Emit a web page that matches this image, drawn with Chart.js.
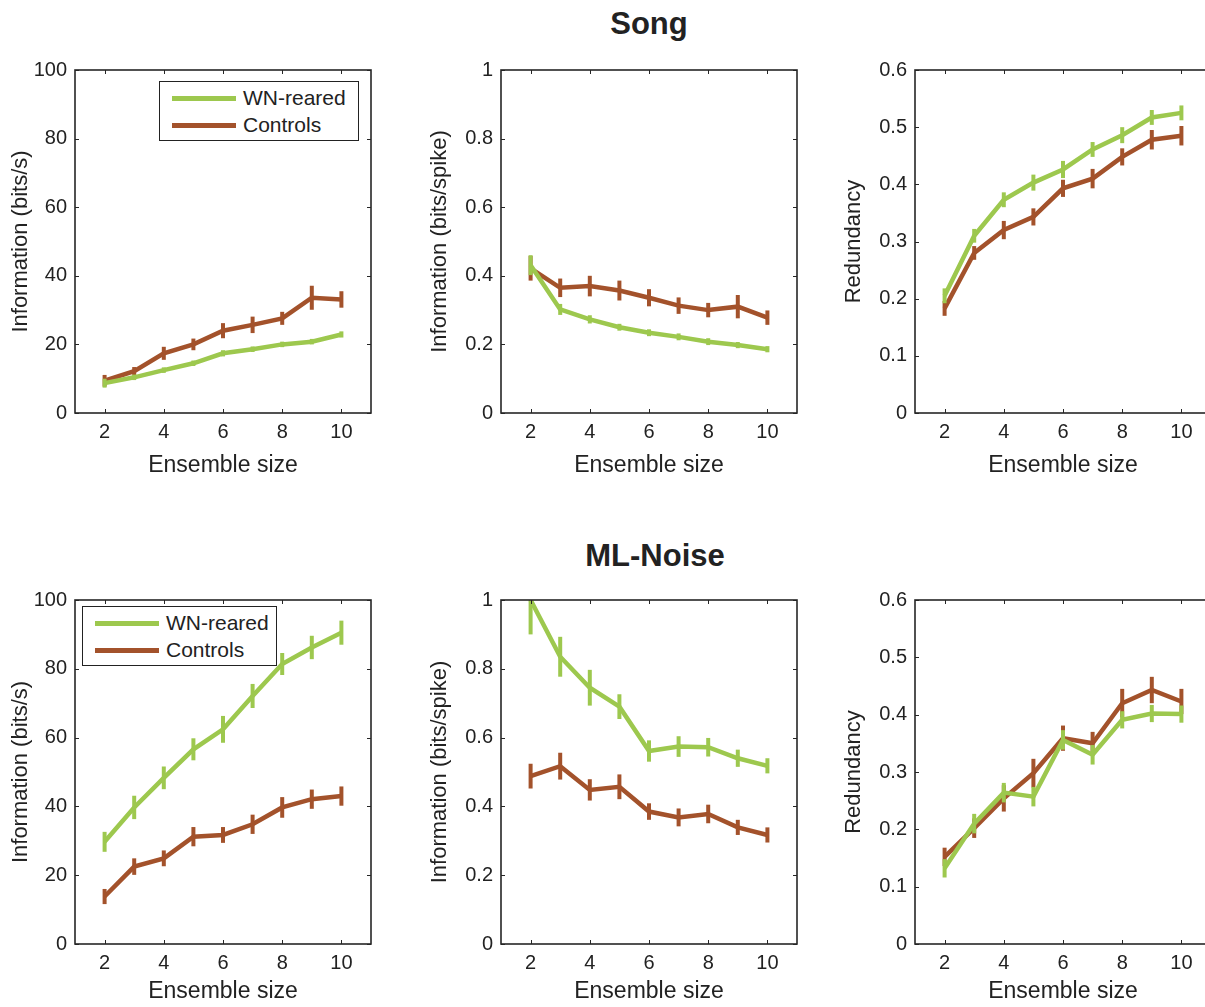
<!DOCTYPE html>
<html>
<head>
<meta charset="utf-8">
<script src="https://cdn.jsdelivr.net/npm/chart.js@4.4.1/dist/chart.umd.min.js"></script>
<style>
  body { margin:0; width:1205px; height:1007px; overflow:hidden; background:#fff; position:relative;
         font-family:"Liberation Sans", Arial, sans-serif; }
  canvas { position:absolute; }
  .title { position:absolute; width:300px; text-align:center; font-weight:bold; font-size:31px; color:#222; }
  .legend { position:absolute; border:1.5px solid #222; background:#fff; box-sizing:border-box; }
  .legend .ln { position:absolute; height:5px; }
  .legend .tx { position:absolute; font-size:21px; line-height:24px; color:#222; }
</style>
</head>
<body>
<div class="title" style="left:499px; top:6px;">Song</div>
<div class="title" style="left:505px; top:538px;">ML-Noise</div>

<script>
// ensemble sizes and tick labels
const sizes = [2, 3, 4, 5, 6, 7, 8, 9, 10];
const xTicks = [2, 4, 6, 8, 10];
const rateTicks = [0, 20, 40, 60, 80, 100];
const spikeTicks = [0, 0.2, 0.4, 0.6, 0.8, 1];
const redTicks = [0, 0.1, 0.2, 0.3, 0.4, 0.5, 0.6];

const seriesNames = ['WN-reared', 'Controls'];
const seriesColors = ['#9dc84e', '#a3522b'];

// Song: information rate (bits/s)
const songRateWN     = [8.7, 10.4, 12.5, 14.5, 17.4, 18.6, 20.0, 20.8, 22.9];
const songRateWNErr  = [1.3, 0.8, 0.8, 0.8, 0.9, 0.8, 0.8, 0.8, 0.9];
const songRateCtl    = [9.4, 12.2, 17.4, 20.0, 24.0, 25.7, 27.6, 33.6, 33.1];
const songRateCtlErr = [1.7, 1.2, 1.9, 1.7, 2.2, 2.4, 1.9, 3.5, 2.4];

// Song: information per spike (bits/spike)
const songSpikeWN     = [0.431, 0.302, 0.273, 0.250, 0.234, 0.222, 0.208, 0.198, 0.186];
const songSpikeWNErr  = [0.029, 0.016, 0.012, 0.010, 0.010, 0.010, 0.010, 0.009, 0.009];
const songSpikeCtl    = [0.422, 0.365, 0.370, 0.357, 0.336, 0.313, 0.300, 0.310, 0.278];
const songSpikeCtlErr = [0.036, 0.027, 0.030, 0.029, 0.025, 0.024, 0.021, 0.034, 0.021];

// Song: redundancy
const songRedWN     = [0.205, 0.310, 0.373, 0.403, 0.426, 0.461, 0.486, 0.517, 0.525];
const songRedWNErr  = [0.013, 0.012, 0.013, 0.014, 0.015, 0.013, 0.014, 0.013, 0.013];
const songRedCtl    = [0.183, 0.280, 0.320, 0.343, 0.393, 0.410, 0.448, 0.478, 0.485];
const songRedCtlErr = [0.013, 0.012, 0.016, 0.015, 0.015, 0.017, 0.015, 0.017, 0.017];

// ML-Noise: information rate (bits/s)
const noiseRateWN     = [29.7, 39.7, 48.3, 56.6, 62.4, 72.1, 81.4, 86.2, 90.5];
const noiseRateWNErr  = [2.9, 3.4, 3.3, 3.2, 3.9, 3.5, 3.2, 3.4, 3.5];
const noiseRateCtl    = [13.8, 22.5, 24.9, 31.2, 31.7, 34.8, 39.7, 42.1, 43.0];
const noiseRateCtlErr = [2.2, 2.4, 2.3, 2.8, 2.3, 2.8, 3.0, 2.8, 2.8];

// ML-Noise: information per spike (bits/spike)
const noiseSpikeWN     = [1.0, 0.835, 0.745, 0.690, 0.561, 0.574, 0.572, 0.540, 0.518];
const noiseSpikeWNErr  = [0.1, 0.058, 0.052, 0.036, 0.031, 0.030, 0.027, 0.025, 0.022];
const noiseSpikeCtl    = [0.488, 0.517, 0.448, 0.457, 0.385, 0.368, 0.378, 0.339, 0.317];
const noiseSpikeCtlErr = [0.036, 0.039, 0.031, 0.036, 0.024, 0.026, 0.027, 0.022, 0.022];

// ML-Noise: redundancy
const noiseRedWN     = [0.132, 0.210, 0.264, 0.257, 0.356, 0.330, 0.391, 0.402, 0.401];
const noiseRedWNErr  = [0.016, 0.017, 0.017, 0.017, 0.017, 0.017, 0.015, 0.015, 0.015];
const noiseRedCtl    = [0.152, 0.202, 0.254, 0.298, 0.359, 0.350, 0.420, 0.443, 0.423];
const noiseRedCtlErr = [0.016, 0.017, 0.023, 0.025, 0.022, 0.020, 0.025, 0.023, 0.022];

const rows = [{ top: 70, bottom: 413, xTitlePad: 4 }, { top: 600, bottom: 944, xTitlePad: 9 }];
const cols = [75, 501, 915];
const plotW = 296;

const panels = [
  { row: 0, col: 0, ticks: rateTicks,  label: 'Information (bits/s)',     pad: 8, wn: songRateWN,   wnErr: songRateWNErr,   ctl: songRateCtl,   ctlErr: songRateCtlErr,   legend: [159, 81, 200] },
  { row: 0, col: 1, ticks: spikeTicks, label: 'Information (bits/spike)', pad: 1, wn: songSpikeWN,  wnErr: songSpikeWNErr,  ctl: songSpikeCtl,  ctlErr: songSpikeCtlErr },
  { row: 0, col: 2, ticks: redTicks,   label: 'Redundancy',               pad: 1, wn: songRedWN,    wnErr: songRedWNErr,    ctl: songRedCtl,    ctlErr: songRedCtlErr },
  { row: 1, col: 0, ticks: rateTicks,  label: 'Information (bits/s)',     pad: 8, wn: noiseRateWN,  wnErr: noiseRateWNErr,  ctl: noiseRateCtl,  ctlErr: noiseRateCtlErr,  legend: [82, 606, 195] },
  { row: 1, col: 1, ticks: spikeTicks, label: 'Information (bits/spike)', pad: 1, wn: noiseSpikeWN, wnErr: noiseSpikeWNErr, ctl: noiseSpikeCtl, ctlErr: noiseSpikeCtlErr },
  { row: 1, col: 2, ticks: redTicks,   label: 'Redundancy',               pad: 1, wn: noiseRedWN,   wnErr: noiseRedWNErr,   ctl: noiseRedCtl,   ctlErr: noiseRedCtlErr }
];

const axisColor = '#262626';
const tickFont = { family: '"Liberation Sans", Arial, sans-serif', size: 20 };
const labelFont = { family: '"Liberation Sans", Arial, sans-serif', size: 22 };
const xLabelFont = { family: '"Liberation Sans", Arial, sans-serif', size: 23 };

// error bars after each line, then the boxed axes with inward ticks
const boxPlugin = {
  id: 'boxAxes',
  afterDatasetDraw(chart, args) {
    const ds = chart.data.datasets[args.index];
    const xs = chart.scales.x, ys = chart.scales.y, a = chart.chartArea;
    const ctx = chart.ctx;
    ctx.save();
    ctx.beginPath();
    ctx.rect(a.left, a.top, a.right - a.left, a.bottom - a.top);
    ctx.clip();
    ctx.strokeStyle = ds.borderColor;
    ctx.lineWidth = 4;
    ds.data.forEach((p, i) => {
      const px = xs.getPixelForValue(p.x);
      ctx.beginPath();
      ctx.moveTo(px, ys.getPixelForValue(p.y - ds.errors[i]));
      ctx.lineTo(px, ys.getPixelForValue(p.y + ds.errors[i]));
      ctx.stroke();
    });
    ctx.restore();
  },
  afterDraw(chart) {
    const ctx = chart.ctx, a = chart.chartArea;
    const xs = chart.scales.x, ys = chart.scales.y;
    ctx.save();
    ctx.strokeStyle = axisColor;
    ctx.lineWidth = 1;
    ctx.beginPath();
    xs.ticks.forEach(t => {
      const px = Math.round(xs.getPixelForValue(t.value)) + 0.5;
      ctx.moveTo(px, a.bottom); ctx.lineTo(px, a.bottom - 4);
      ctx.moveTo(px, a.top); ctx.lineTo(px, a.top + 4);
    });
    ys.ticks.forEach(t => {
      const py = Math.round(ys.getPixelForValue(t.value)) + 0.5;
      ctx.moveTo(a.left, py); ctx.lineTo(a.left + 4, py);
      ctx.moveTo(a.right, py); ctx.lineTo(a.right - 4, py);
    });
    ctx.stroke();
    ctx.lineWidth = 1.6;
    ctx.strokeRect(a.left, a.top, a.right - a.left, a.bottom - a.top);
    ctx.restore();
  }
};

function makeLegend(x, y, w) {
  const box = document.createElement('div');
  box.className = 'legend';
  box.style.left = x + 'px';
  box.style.top = y + 'px';
  box.style.width = w + 'px';
  box.style.height = '60px';
  seriesNames.forEach((name, i) => {
    const ln = document.createElement('div');
    ln.className = 'ln';
    ln.style.left = '12px';
    ln.style.width = '64px';
    ln.style.top = (14 + i * 27) + 'px';
    ln.style.background = seriesColors[i];
    box.appendChild(ln);
    const tx = document.createElement('div');
    tx.className = 'tx';
    tx.style.left = '83px';
    tx.style.top = (4 + i * 27) + 'px';
    tx.textContent = name;
    box.appendChild(tx);
  });
  document.body.appendChild(box);
}

panels.forEach(p => {
  const row = rows[p.row];
  const left = cols[p.col];
  const padL = 75, padT = 20, padR = 10, padB = 70;
  const canvas = document.createElement('canvas');
  canvas.width = plotW + padL + padR;
  canvas.height = (row.bottom - row.top) + padT + padB;
  canvas.style.left = (left - padL) + 'px';
  canvas.style.top = (row.top - padT) + 'px';
  document.body.appendChild(canvas);

  const series = [[p.wn, p.wnErr], [p.ctl, p.ctlErr]];
  new Chart(canvas.getContext('2d'), {
    type: 'line',
    data: {
      datasets: series.map((s, i) => ({
        label: seriesNames[i],
        data: sizes.map((x, k) => ({ x: x, y: s[0][k] })),
        errors: s[1],
        borderColor: seriesColors[i],
        backgroundColor: seriesColors[i],
        borderWidth: 4.5,
        pointRadius: 0,
        tension: 0,
        fill: false
      }))
    },
    options: {
      responsive: false,
      animation: false,
      layout: { padding: { left: 0, top: padT, right: padR, bottom: 0 } },
      plugins: { legend: { display: false }, tooltip: { enabled: false } },
      scales: {
        x: {
          type: 'linear', min: 1, max: 11,
          afterBuildTicks: s => { s.ticks = xTicks.map(v => ({ value: v })); },
          afterFit: s => { s.height = padB; },
          grid: { display: false, drawTicks: false },
          border: { display: false },
          ticks: { padding: 7, color: '#222', font: tickFont, callback: v => String(v) },
          title: { display: true, text: 'Ensemble size', color: '#222', font: xLabelFont,
                   padding: { top: 0, bottom: row.xTitlePad } }
        },
        y: {
          min: 0, max: p.ticks[p.ticks.length - 1],
          afterBuildTicks: s => { s.ticks = p.ticks.map(v => ({ value: v })); },
          afterFit: s => { s.width = padL; },
          grid: { display: false, drawTicks: false },
          border: { display: false },
          ticks: { padding: 8, color: '#222', font: tickFont, callback: v => String(v) },
          title: { display: true, text: p.label, color: '#222', font: labelFont,
                   padding: { top: p.pad, bottom: 0 } }
        }
      }
    },
    plugins: [boxPlugin]
  });

  if (p.legend) makeLegend(p.legend[0], p.legend[1], p.legend[2]);
});
</script>
</body>
</html>
